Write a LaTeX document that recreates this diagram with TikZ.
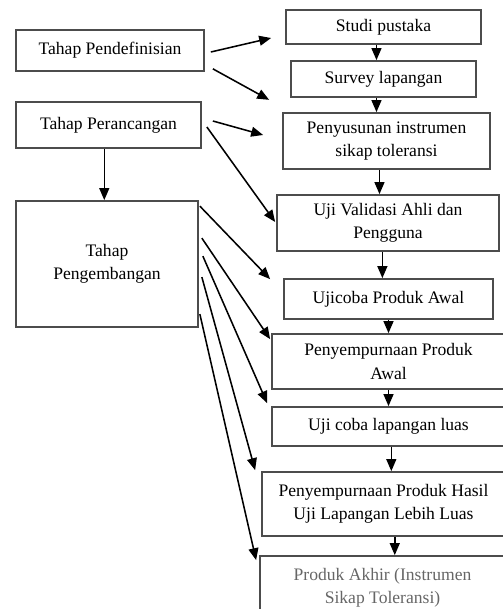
\documentclass[tikz,border=0pt]{standalone}
\usepackage{fontspec}
\setmainfont{Liberation Serif}
\usetikzlibrary{arrows.meta}
\usetikzlibrary{calc}

\begin{document}
\begin{tikzpicture}[x=0.025cm, y=-0.025cm,
    box/.style={rectangle, draw=black!70, line width=1.2pt, inner sep=0pt, align=center,
                font=\fontsize{12.5}{16.5}\selectfont},
    arr/.style={-{Triangle[length=8.5pt, width=7pt]}, line width=1.1pt}]
    \useasboundingbox (0,0) rectangle (502,609);

    % tahap (kiri)
    \node[box, minimum width=4.7cm, minimum height=1.025cm] (pend) at (110,50.5) {Tahap Pendefinisian};
    \node[box, minimum width=4.625cm, minimum height=1.15cm] (ranc) at (108.5,125) {Tahap Perancangan};
    \node[box, minimum width=4.55cm, minimum height=3.15cm] (kemb) at (107,264) {Tahap\\Pengembangan};

    % langkah (kanan)
    \node[box, minimum width=4.875cm, minimum height=0.85cm] (studi) at (383.5,27) {Studi pustaka};
    \node[box, minimum width=4.625cm, minimum height=0.9cm] (survey) at (383.5,79) {Survey lapangan};
    \node[box, minimum width=5.175cm, minimum height=1.4cm] (susun) at (386.5,141) {Penyusunan instrumen\\sikap toleransi};
    \node[box, minimum width=5.55cm, minimum height=1.4cm] (valid) at (388,223) {Uji Validasi Ahli dan\\Pengguna};
    \node[box, minimum width=5.225cm, minimum height=1cm] (ujiawal) at (388.5,299) {Ujicoba Produk Awal};
    \node[box, minimum width=5.825cm, minimum height=1.375cm] (sempawal) at (388.5,361.5) {Penyempurnaan Produk\\Awal};
    \node[box, minimum width=5.825cm, minimum height=0.975cm] (ujiluas) at (388.5,426.5) {Uji coba lapangan luas};
    \node[box, minimum width=6.075cm, minimum height=1.6cm] (semphasil) at (383.5,504) {Penyempurnaan Produk Hasil\\Uji Lapangan Lebih Luas};
    \node[box, minimum width=6.125cm, minimum height=1.6cm, text=black!60] (akhir) at (382.5,588) {Produk Akhir (Instrumen\\Sikap Toleransi)};

    % alur kanan
    \draw[arr] ([xshift=-5]studi.south) -- ([xshift=-5]survey.north);
    \draw[arr] ([xshift=-5]survey.south) -- ([xshift=-5]survey.south |- susun.north);
    \draw[arr] ([xshift=-5]susun.south) -- ([xshift=-5]susun.south |- valid.north);
    \draw[arr] ([xshift=-4]valid.south) -- ([xshift=-4]valid.south |- ujiawal.north);
    \draw[arr] (ujiawal.south) -- (ujiawal.south |- sempawal.north);
    \draw[arr] (sempawal.south) -- (sempawal.south |- ujiluas.north);
    \draw[arr] ([xshift=2]ujiluas.south) -- ([xshift=2]ujiluas.south |- semphasil.north);
    \draw[arr] ([xshift=8]semphasil.south) -- ([xshift=8]semphasil.south |- akhir.north);

    % dari tahap ke langkah
    \draw[arr] ($(pend.east)+(6,1.5)$) -- ($(studi.west)+(-14,11)$);
    \draw[arr] ($(pend.south east)+(8,-3)$) -- ($(survey.south west)+(-21,2)$);
    \draw[arr] ($(ranc.east)+(11,-4)$) -- ($(susun.west)+(-19,-6)$);
    \draw[arr] ($(ranc.east)+(5,2)$) -- ($(valid.west)+(-1,-1)$);
    \draw[arr] ([xshift=-3]ranc.south) -- ([xshift=-3]ranc.south |- kemb.north);
    \draw[arr] ($(kemb.north east)+(1,6)$) -- ($(ujiawal.north west)+(-13,1)$);
    \draw[arr] ($(kemb.north east)+(3,38)$) -- ($(sempawal.north west)+(-1,6)$);
    \draw[arr] ($(kemb.north east)+(4,56)$) -- ($(ujiluas.north west)+(-4,-3)$);
    \draw[arr] ($(kemb.north east)+(3,77)$) -- ($(semphasil.north west)+(-6,-1)$);
    \draw[arr] ($(kemb.north east)+(1,114)$) -- ($(akhir.north west)+(-3,5)$);
\end{tikzpicture}
\end{document}
